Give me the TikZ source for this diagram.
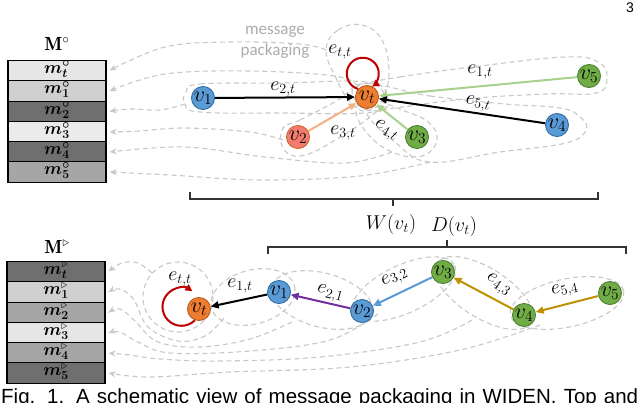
\RequirePackage{fix-cm}
\documentclass[tikz,border=0pt]{standalone}
\usepackage{amsmath,bm}
\usepackage{fontspec}
\newfontfamily\carl{Carlito}
\newfontfamily\lsans{Liberation Sans}
\usetikzlibrary{arrows.meta}
\definecolor{cblue}{HTML}{5B9BD5}\definecolor{cblueD}{HTML}{2E6DA4}
\definecolor{corange}{HTML}{ED7D31}\definecolor{corangeD}{HTML}{B85C1E}
\definecolor{cgreen}{HTML}{70AD47}\definecolor{cgreenD}{HTML}{4E7F30}
\definecolor{csalmon}{HTML}{F47C6E}\definecolor{csalmonD}{HTML}{C9672F}
\definecolor{cpeach}{HTML}{F4B183}
\definecolor{clgreen}{HTML}{A9D18E}
\definecolor{cpurple}{HTML}{7030A0}
\definecolor{cgold}{HTML}{BF9000}
\definecolor{cred}{HTML}{C00000}
\definecolor{cdash}{HTML}{C8C8C8}
\definecolor{ctext}{HTML}{ADADAD}
\definecolor{gA}{HTML}{E6E6E6}\definecolor{gB}{HTML}{D0D0D0}
\definecolor{gC}{HTML}{6F6F6F}\definecolor{gD}{HTML}{A6A6A6}
\tikzset{
 nd/.style={circle, draw, line width=0.9pt, minimum size=23pt, inner sep=0pt, text height=9pt, text depth=3pt, font=\fontsize{22}{24}\selectfont},
 nblue/.style={nd, fill=cblue, draw=cblueD},
 norange/.style={nd, fill=corange, draw=corangeD},
 ngreen/.style={nd, fill=cgreen, draw=cgreenD},
 nsalmon/.style={nd, fill=csalmon, draw=csalmonD},
 edg/.style={line width=2pt, -{Triangle[length=8pt,width=7pt]}},
 lbl/.style={font=\fontsize{20}{22}\selectfont, inner sep=0pt},
 lasso/.style={draw=cdash, line width=1.1pt, dash pattern=on 5pt off 3.5pt},
 tail/.style={lasso, -{Stealth[length=7pt,width=6pt]}},
 rowst/.style={draw, line width=1.2pt, minimum width=98pt, minimum height=20.3pt, inner sep=0pt, text height=7pt, text depth=2pt, font=\fontsize{17.5}{18}\selectfont},
 loopst/.style={draw=cred, line width=2pt, -{Triangle[length=7pt,width=7pt]}},
 brace/.style={line width=1.2pt, draw=black!80},
}
\begin{document}
\begin{tikzpicture}[x=1pt,y=-1pt]
\fill[white] (0,0) rectangle (640,402);
\useasboundingbox (0,0) rectangle (640,402);
\clip (0,0) rectangle (640,402);

% page number and caption
\node[font=\lsans\fontsize{14}{14}\selectfont, inner sep=0pt] (pg) at (630,8) {3};
\node[font=\lsans\fontsize{20.5}{20.5}\selectfont, anchor=base west, inner sep=0pt] (cap) at (1,403)
  {\makebox[637pt][s]{Fig. 1. A schematic view of message packaging in WIDEN. Top and}};

% ---------- top memory table ----------
\node[font=\fontsize{19}{19}\selectfont] (tM) at (57,44) {$\mathbf{M}^{\circ}$};
\node[rowst, fill=gA] (tt0) at (57,70.5) {$\bm{m}^{\bm\circ}_{\bm t}$};
\node[rowst, fill=gB] (tt1) at (57,91) {$\bm{m}^{\bm\circ}_{\bm 1}$};
\node[rowst, fill=gC] (tt2) at (57,111.5) {$\bm{m}^{\bm\circ}_{\bm 2}$};
\node[rowst, fill=gA!80!white] (tt3) at (57,132) {$\bm{m}^{\bm\circ}_{\bm 3}$};
\node[rowst, fill=gC] (tt4) at (57,152) {$\bm{m}^{\bm\circ}_{\bm 4}$};
\node[rowst, fill=gD] (tt5) at (57,172) {$\bm{m}^{\bm\circ}_{\bm 5}$};

% ---------- bottom memory table ----------
\node[font=\fontsize{19}{19}\selectfont] (bM) at (57,247) {$\mathbf{M}^{\triangleright}$};
\node[rowst, fill=gC] (tb0) at (56,271.5) {$\bm{m}^{\triangleright}_{\bm t}$};
\node[rowst, fill=gB] (tb1) at (56,292) {$\bm{m}^{\triangleright}_{\bm 1}$};
\node[rowst, fill=gD] (tb2) at (56,312.5) {$\bm{m}^{\triangleright}_{\bm 2}$};
\node[rowst, fill=gA] (tb3) at (56,333) {$\bm{m}^{\triangleright}_{\bm 3}$};
\node[rowst, fill=gD] (tb4) at (56,353) {$\bm{m}^{\triangleright}_{\bm 4}$};
\node[rowst, fill=gC] (tb5) at (56,373) {$\bm{m}^{\triangleright}_{\bm 5}$};

% ---------- top lassos ----------
\node[font=\carl\fontsize{17}{21}\selectfont, text=ctext, align=center, inner sep=0pt] (msg) at (275,42) {message\\packaging};
\draw[lasso] plot[smooth cycle, tension=0.7] coordinates {(326,50) (338,30) (362,25) (382,40) (389,72) (382,100) (366,111) (350,102) (336,78)};
\draw[tail] plot[smooth, tension=0.6] coordinates {(326,50) (300,44) (230,42) (165,47) ([xshift=3pt]tt0.east)};
\draw[lasso] plot[smooth cycle, tension=0.7] coordinates {(358,86) (400,77) (480,66) (565,57) (598,62) (607,78) (596,93) (545,94) (465,99) (395,108) (368,110) (354,98)};
\draw[tail] plot[smooth, tension=0.6] coordinates {(358,86) (335,76) (250,71) (165,74) ([xshift=3pt]tt1.east)};
\draw[lasso] plot[smooth cycle, tension=0.7] coordinates {(186,92) (200,84) (280,83) (366,82) (387,96) (373,112) (280,113) (200,112) (185,104)};
\draw[tail] plot[smooth, tension=0.6] coordinates {(185,104) (160,110) (130,109) ([xshift=3pt]tt2.east)};
\draw[lasso] plot[smooth cycle, tension=0.7] coordinates {(283,128) (300,120) (338,100) (360,84) (382,90) (378,110) (332,142) (300,156) (283,148)};
\draw[tail] plot[smooth, tension=0.6] coordinates {(283,140) (250,132) (185,128) (140,131) ([xshift=3pt]tt3.east)};
\draw[lasso] plot[smooth cycle, tension=0.7] coordinates {(356,108) (372,100) (402,110) (428,122) (437,140) (422,156) (392,152) (366,132)};
\draw[tail] plot[smooth, tension=0.6] coordinates {(392,152) (345,163) (265,157) (185,147) ([xshift=3pt]tt4.east)};
\draw[lasso] plot[smooth cycle, tension=0.7] coordinates {(372,86) (430,96) (505,104) (560,108) (580,117) (586,130) (566,143) (500,152) (430,162) (395,142) (366,112)};
\draw[tail] plot[smooth, tension=0.6] coordinates {(430,162) (360,176) (260,180) (170,175) ([xshift=3pt]tt5.east)};

% ---------- bottom lassos ----------
\draw[lasso] (178,297) circle[radius=35];
\draw[tail] plot[smooth, tension=0.6] coordinates {(152,273) (138,263) (122,263) ([xshift=3pt]tb0.east)};
\draw[lasso, rotate around={15:(253,297)}] (253,297) ellipse[x radius=43, y radius=27];
\draw[tail] plot[smooth, tension=0.6] coordinates {(224,318) (205,336) (178,341) (148,327) (134,300) (120,289) ([xshift=3pt]tb1.east)};
\draw[lasso, rotate around={-15:(322,300)}] (322,300) ellipse[x radius=52, y radius=27];
\draw[tail] plot[smooth, tension=0.6] coordinates {(292,322) (250,339) (200,347) (158,342) (134,320) (120,309) ([xshift=3pt]tb2.east)};
\draw[lasso, rotate around={25:(404,289)}] (404,289) ellipse[x radius=56, y radius=24];
\draw[tail] plot[smooth, tension=0.6] coordinates {(378,314) (330,340) (250,351) (170,353) (138,342) (120,332) ([xshift=3pt]tb3.east)};
\draw[lasso, rotate around={-32:(484,293)}] (484,293) ellipse[x radius=56, y radius=25];
\draw[tail] plot[smooth, tension=0.6] coordinates {(472,320) (420,342) (320,357) (220,361) (160,359) (130,355) ([xshift=3pt]tb4.east)};
\draw[lasso, rotate around={12:(567,303)}] (567,303) ellipse[x radius=58, y radius=24];
\draw[tail] plot[smooth, tension=0.6] coordinates {(540,325) (460,350) (350,367) (230,372) (150,377) ([xshift=3pt]tb5.east)};

% ---------- braces ----------
\draw[brace] (190,192) -- (190,199) -- (598,199) -- (598,192);
\draw[brace] (393,199) -- (393,206);
\draw[brace] (268,254) -- (268,247) -- (626,247) -- (626,254);
\draw[brace] (447,247) -- (447,240);
\node[lbl] (W) at (391,224) {$W(v_t)$};
\node[lbl] (D) at (454,226) {$D(v_t)$};

% ---------- top graph ----------
\node[norange] (tvt) at (367,97) {$v_t$};
\node[nblue] (tv1) at (203,98) {$v_1$};
\node[nsalmon] (tv2) at (298,137) {$v_2$};
\node[ngreen] (tv3) at (417,137) {$v_3$};
\node[nblue] (tv4) at (557,125) {$v_4$};
\node[ngreen] (tv5) at (589,76) {$v_5$};
\draw[edg, black] (tv1) -- (tvt);
\draw[edg, cpeach] (tv2) -- (tvt);
\draw[edg, clgreen] (tv3) -- (tvt);
\draw[edg, clgreen] (tv5) -- (tvt);
\draw[edg, black] (tv4) -- (tvt);
\draw[loopst] (tvt.138) arc[start angle=107, end angle=414, radius=16];
\node[lbl] (tltt) at (340,52) {$e_{t,t}$};
\node[lbl] (tl2) at (283,89) {$e_{2,t}$};
\node[lbl] (tl3) at (343,133) {$e_{3,t}$};
\node[lbl, rotate=-30] (tl4) at (386,131) {$e_{4,t}$};
\node[lbl] (tl1) at (480,72) {$e_{1,t}$};
\node[lbl, rotate=-8] (tl5) at (478,104) {$e_{5,t}$};

% ---------- bottom graph ----------
\node[norange] (bvt) at (199,309) {$v_t$};
\node[nblue] (bv1) at (279,292) {$v_1$};
\node[nblue] (bv2) at (362,311) {$v_2$};
\node[ngreen] (bv3) at (443,272) {$v_3$};
\node[ngreen] (bv4) at (524,315) {$v_4$};
\node[ngreen] (bv5) at (610,293) {$v_5$};
\draw[edg, black] (bv1) -- (bvt);
\draw[edg, cpurple] (bv2) -- (bv1);
\draw[edg, cblue] (bv3) -- (bv2);
\draw[edg, cgold] (bv4) -- (bv3);
\draw[edg, cgold] (bv5) -- (bv4);
\draw[loopst] (bvt.250) arc[start angle=45, end angle=305, radius=19];
\node[lbl] (bltt) at (180,279) {$e_{t,t}$};
\node[lbl] (bl1) at (240,286) {$e_{1,t}$};
\node[lbl, rotate=-15] (bl21) at (330,294) {$e_{2,1}$};
\node[lbl, rotate=25] (bl32) at (395,278) {$e_{3,2}$};
\node[lbl, rotate=-35] (bl43) at (498,285) {$e_{4,3}$};
\node[lbl, rotate=12] (bl54) at (565,290) {$e_{5,4}$};
\end{tikzpicture}
\end{document}
